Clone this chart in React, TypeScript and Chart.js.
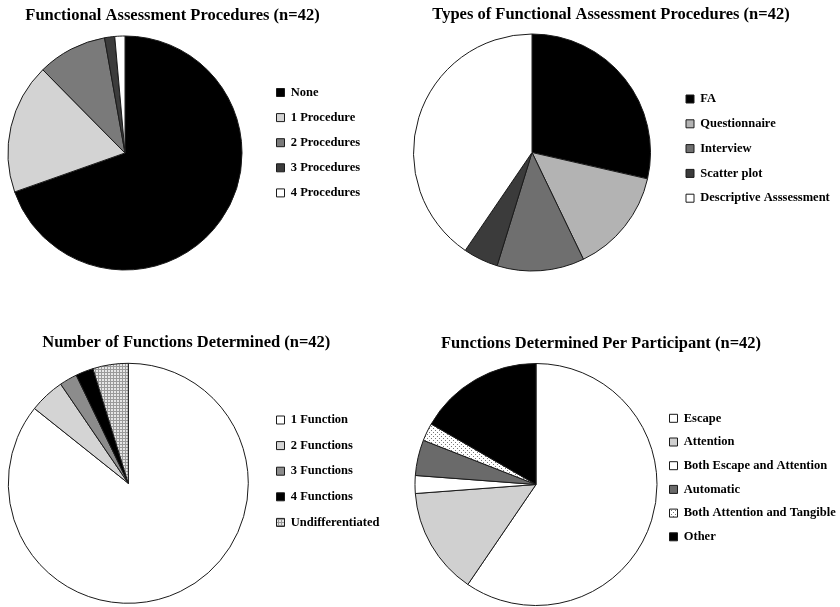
import React, { useEffect, useRef } from 'react';
import { Chart, registerables } from 'chart.js';

Chart.register(...registerables);

const FONT = '"Liberation Serif", "Times New Roman", Times, serif';

// ---- Chart 1 ----
const procTitle = 'Functional Assessment Procedures (n=42)';
const procLabels = ['None', '1 Procedure', '2 Procedures', '3 Procedures', '4 Procedures'];
const procValues = [69.6, 18.0, 9.6, 1.4, 1.4];

// ---- Chart 2 ----
const typeTitle = 'Types of Functional Assessment Procedures (n=42)';
const typeLabels = ['FA', 'Questionnaire', 'Interview', 'Scatter plot', 'Descriptive Asssessment'];
const typeValues = [12, 6, 5, 2, 17];

// ---- Chart 3 ----
const numTitle = 'Number of Functions Determined (n=42)';
const numLabels = ['1 Function', '2 Functions', '3 Functions', '4 Functions', 'Undifferentiated'];
const numValues = [36, 2, 1, 1, 2];

// ---- Chart 4 ----
const partTitle = 'Functions Determined Per Participant (n=42)';
const partLabels = [
  'Escape',
  'Attention',
  'Both Escape and Attention',
  'Automatic',
  'Both Attention and Tangible',
  'Other',
];
const partValues = [25, 6, 1, 2, 1, 7];

// styles ('grid' and 'dots' are pattern fills)
const procColors = ['#000000', '#d3d3d3', '#7a7a7a', '#3c3c3c', '#ffffff'];
const typeColors = ['#000000', '#b3b3b3', '#6f6f6f', '#3b3b3b', '#ffffff'];
const numColors = ['#ffffff', '#d4d4d4', '#8c8c8c', '#000000', 'grid'];
const partColors = ['#ffffff', '#d0d0d0', '#ffffff', '#6a6a6a', 'dots', '#000000'];

type Layout = {
  cx: number; cy: number; r: number;
  boxX: number; firstY: number; step: number;
  titleX: number; titleBase: number;
  top: number; height: number;
};

const layouts: Layout[] = [
  { cx: 125, cy: 153, r: 117, boxX: 276.5, firstY: 92.5, step: 25.1, titleX: 172.5, titleBase: 20, top: 0, height: 300 },
  { cx: 532, cy: 152.5, r: 118.5, boxX: 686, firstY: 99, step: 24.8, titleX: 611, titleBase: 18.5, top: 0, height: 300 },
  { cx: 128.3, cy: 483.3, r: 120, boxX: 276.5, firstY: 420, step: 25.6, titleX: 186.3, titleBase: 347.3, top: 300, height: 307 },
  { cx: 536, cy: 484.5, r: 121, boxX: 669.5, firstY: 418.3, step: 23.7, titleX: 601, titleBase: 348.3, top: 300, height: 307 },
];

function makePattern(kind: string): CanvasPattern | string {
  const c = document.createElement('canvas');
  const ctx = c.getContext('2d');
  if (!ctx) return '#cccccc';
  if (kind === 'grid') {
    c.width = 3; c.height = 3;
    ctx.fillStyle = '#e6e6e6';
    ctx.fillRect(0, 0, 3, 3);
    ctx.fillStyle = '#9a9a9a';
    ctx.fillRect(0, 0, 3, 1);
    ctx.fillRect(0, 0, 1, 3);
  } else {
    c.width = 4; c.height = 4;
    ctx.fillStyle = '#ffffff';
    ctx.fillRect(0, 0, 4, 4);
    ctx.fillStyle = '#777777';
    ctx.fillRect(0, 0, 1, 1);
    ctx.fillRect(2, 2, 1, 1);
  }
  const p = ctx.createPattern(c, 'repeat');
  return p || '#cccccc';
}

const FONT_SIZE = 12.5;
const BOX = 8;
const CANVAS_W = 450;

function PieQuadrant(props: { title: string; labels: string[]; values: number[]; colors: string[]; layout: Layout }) {
  const { title, labels, values, colors, layout } = props;
  const ref = useRef<HTMLCanvasElement | null>(null);

  const labelPad = layout.step - FONT_SIZE;
  const h = 2 * layout.r + 1;
  const areaTop = layout.cy - h / 2;
  const legendLeft = layout.boxX - labelPad;
  const areaLeft = 2 * layout.cx - legendLeft;
  const C = Math.floor(areaLeft);
  const T = layout.top;
  const H = layout.height;
  const padL = areaLeft - C;
  const padT = areaTop - T;
  const padB = T + H - (areaTop + h);
  const legendTitleH = layout.firstY - FONT_SIZE / 2 - labelPad - areaTop;

  useEffect(() => {
    if (!ref.current) return;
    const mctx = ref.current.getContext('2d');
    let maxText = 0;
    if (mctx) {
      mctx.save();
      mctx.font = `normal bold ${FONT_SIZE}px ${FONT}`;
      labels.forEach((l) => {
        maxText = Math.max(maxText, mctx.measureText(l).width);
      });
      mctx.restore();
    }
    const legendW = labelPad + BOX + FONT_SIZE / 2 + maxText + 10;
    const padR = C + CANVAS_W - legendLeft - legendW;

    const bg = colors.map((c) => (c === 'grid' || c === 'dots' ? makePattern(c) : c));
    const heading = {
      id: 'quadHeading',
      afterDraw(chart: any) {
        const ctx = chart.ctx;
        ctx.save();
        ctx.font = `bold 16.5px ${FONT}`;
        ctx.fillStyle = '#000';
        ctx.textAlign = 'center';
        ctx.textBaseline = 'alphabetic';
        ctx.fillText(title, layout.titleX - C, layout.titleBase - T);
        ctx.restore();
      },
    };
    const chart = new Chart(ref.current, {
      type: 'pie',
      data: {
        labels,
        datasets: [
          {
            data: values,
            backgroundColor: bg as any,
            borderColor: '#1a1a1a',
            borderWidth: 1,
            hoverOffset: 0,
          },
        ],
      },
      options: {
        responsive: false,
        animation: false,
        events: [],
        layout: { padding: { left: padL, right: padR, top: padT, bottom: padB } },
        plugins: {
          legend: {
            position: 'right',
            align: 'start',
            fullSize: false,
            maxWidth: legendW,
            title: {
              display: true,
              text: '',
              font: { size: 1, lineHeight: 1 },
              padding: { top: legendTitleH - 1, bottom: 0 },
            },
            labels: {
              boxWidth: BOX,
              boxHeight: BOX,
              padding: labelPad,
              color: '#000',
              font: { family: FONT, size: FONT_SIZE, weight: 'bold' },
            },
          },
          title: { display: false },
          tooltip: { enabled: false },
        },
      } as any,
      plugins: [heading],
    });
    return () => chart.destroy();
  }, []);

  return (
    <canvas
      ref={ref}
      width={CANVAS_W}
      height={H}
      style={{ position: 'absolute', left: C, top: T, width: CANVAS_W, height: H }}
    />
  );
}

export default function App() {
  return (
    <div
      style={{
        position: 'fixed',
        left: 0,
        top: 0,
        width: 840,
        height: 607,
        background: '#ffffff',
        overflow: 'hidden',
      }}
    >
      <PieQuadrant title={procTitle} labels={procLabels} values={procValues} colors={procColors} layout={layouts[0]} />
      <PieQuadrant title={typeTitle} labels={typeLabels} values={typeValues} colors={typeColors} layout={layouts[1]} />
      <PieQuadrant title={numTitle} labels={numLabels} values={numValues} colors={numColors} layout={layouts[2]} />
      <PieQuadrant title={partTitle} labels={partLabels} values={partValues} colors={partColors} layout={layouts[3]} />
    </div>
  );
}
